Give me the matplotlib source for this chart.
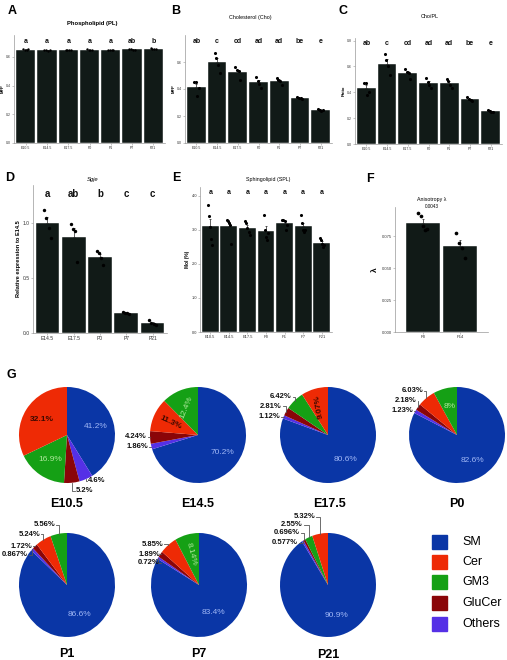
import numpy as np
import matplotlib
matplotlib.use('Agg')
from matplotlib import pyplot as plt
from matplotlib.patches import Rectangle

plt.rcParams['font.family'] = ['Liberation Sans', 'DejaVu Sans']

W, H = 507, 660

# ---------------- bar panel data ----------------
stages7 = ['E10.5', 'E14.5', 'E17.5', 'P0', 'P1', 'P7', 'P21']

pl_dots = [[0.655, 0.650, 0.648, 0.652], [0.648, 0.645, 0.642, 0.645],
           [0.650, 0.648, 0.646, 0.648], [0.652, 0.650, 0.648, 0.650],
           [0.648, 0.646, 0.645, 0.647], [0.655, 0.652, 0.650, 0.651],
           [0.660, 0.657, 0.655, 0.656]]
pl_letters = ['a', 'a', 'a', 'a', 'a', 'ab', 'b']

cho_dots = [[0.45, 0.455, 0.35, 0.405], [0.67, 0.63, 0.58, 0.52],
            [0.56, 0.54, 0.53, 0.47], [0.49, 0.46, 0.44, 0.41],
            [0.48, 0.47, 0.46, 0.43], [0.34, 0.335, 0.33, 0.325],
            [0.25, 0.245, 0.24, 0.245]]
cho_letters = ['ab', 'c', 'cd', 'ad', 'ad', 'be', 'e']

ratio_dots = [[0.47, 0.47, 0.38, 0.40], [0.70, 0.65, 0.60, 0.53],
              [0.58, 0.56, 0.55, 0.50], [0.51, 0.48, 0.46, 0.43],
              [0.50, 0.49, 0.46, 0.43], [0.36, 0.35, 0.34, 0.335],
              [0.26, 0.255, 0.25, 0.25]]
ratio_letters = ['ab', 'c', 'cd', 'ad', 'ad', 'be', 'e']

sgje_stages = ['E14.5', 'E17.5', 'P0', 'P7', 'P21']
sgje_dots = [[1.12, 1.05, 0.96, 0.87], [0.99, 0.95, 0.93, 0.65],
             [0.75, 0.73, 0.68, 0.62], [0.19, 0.18, 0.18, 0.17],
             [0.12, 0.09, 0.08, 0.07]]
sgje_letters = ['a', 'ab', 'b', 'c', 'c']

spl_dots = [[3.74, 3.41, 3.09, 2.74, 2.56], [3.3, 3.25, 3.2, 3.15, 2.6],
            [3.25, 3.2, 3.05, 2.95, 2.85], [3.45, 3.0, 2.8, 2.7, 2.9],
            [3.3, 3.3, 3.25, 3.0, 3.15], [3.45, 3.2, 3.0, 2.95, 3.0],
            [2.75, 2.7, 2.6, 2.5, 2.55]]
spl_letters = ['a'] * 7

aniso_stages = ['P0', 'P14']
aniso_dots = [[0.093, 0.091, 0.083, 0.080, 0.081], [0.078, 0.0695, 0.0656, 0.058]]
aniso_p = '0.0043'

# ---------------- pie data (% of sphingolipids) ----------------
pie_stages = ['E10.5', 'E14.5', 'E17.5', 'P0', 'P1', 'P7', 'P21']
sm_pct = [41.2, 70.2, 80.6, 82.6, 86.6, 83.4, 90.9]
cer_pct = [32.1, 11.3, 9.07, 6.03, 5.24, 5.85, 5.32]
gm3_pct = [16.9, 12.4, 6.42, 8, 5.56, 8.14, 2.55]
glucer_pct = [5.2, 4.24, 2.81, 2.18, 1.72, 1.89, 0.696]
others_pct = [4.6, 1.86, 1.12, 1.23, 0.867, 0.72, 0.577]

cats = ['SM', 'Cer', 'GM3', 'GluCer', 'Others']
cat_colors = {'SM': '#0a36a6', 'Cer': '#ee2a05', 'GM3': '#15a015',
              'GluCer': '#8a0508', 'Others': '#5530e6'}

BAR = '#111a17'

fig = plt.figure(figsize=(W / 100, H / 100), dpi=100)


def px_axes(l, t, r, b):
    return fig.add_axes([l / W, 1 - b / H, (r - l) / W, (b - t) / H])


def bar_panel(ax, labels, dots, letters, ymax, yticks, fmt, ylabel,
              letter_y, tick_fs=2.5, letter_fs=5, dot_s=3):
    x = np.arange(len(labels))
    means = [np.mean(d) for d in dots]
    sems = [np.std(d, ddof=1) / np.sqrt(len(d)) for d in dots]
    ax.bar(x, means, width=0.9, color=BAR, edgecolor='white', linewidth=0.3, zorder=2)
    ax.errorbar(x, means, yerr=[np.zeros(len(x)), sems], fmt='none',
                ecolor='#222', elinewidth=0.5, capsize=1.0, capthick=0.5, zorder=3)
    for i, d in enumerate(dots):
        jit = np.linspace(-0.12, 0.12, len(d))
        ax.scatter(i + jit, d, s=dot_s, color='black', linewidths=0, zorder=4)
    for i, s in enumerate(letters):
        ax.text(i, letter_y, s, ha='center', va='center', fontsize=letter_fs,
                fontweight='bold', color='#111')
    ax.set_xlim(-0.55, len(labels) - 0.45)
    ax.set_ylim(0, ymax)
    ax.set_xticks(x)
    ax.set_xticklabels(labels, fontsize=tick_fs, color='#333')
    ax.set_yticks(yticks)
    ax.set_yticklabels([fmt.format(v) for v in yticks], fontsize=tick_fs, color='#333')
    ax.set_ylabel(ylabel, fontsize=tick_fs + 0.5, fontweight='bold', labelpad=1)
    for s in ['top', 'right']:
        ax.spines[s].set_visible(False)
    for s in ['left', 'bottom']:
        ax.spines[s].set_color('#999')
        ax.spines[s].set_linewidth(0.5)
    ax.tick_params(length=1.2, width=0.4, pad=1, colors='#999', labelcolor='#333')


# A
ax = px_axes(14, 35, 165, 143)
bar_panel(ax, stages7, pl_dots, pl_letters, 0.753, [0, 0.2, 0.4, 0.6], '{:.1f}',
          'MFP', 0.71)
# B
ax = px_axes(185, 35, 332, 143)
bar_panel(ax, stages7, cho_dots, cho_letters, 0.8, [0, 0.2, 0.4, 0.6], '{:.1f}',
          'MFP', 0.755, dot_s=5)
# C
ax = px_axes(355, 38, 502, 144)
bar_panel(ax, stages7, ratio_dots, ratio_letters, 0.82, [0, 0.2, 0.4, 0.6, 0.8], '{:.1f}',
          'Ratio', 0.78, dot_s=5)
# D
ax = px_axes(33, 185, 167, 333)
bar_panel(ax, sgje_stages, sgje_dots, sgje_letters, 1.35, [0, 0.5, 1.0], '{:.1f}',
          'Relative expression to E14.5', 1.27, tick_fs=3.6, letter_fs=7, dot_s=6)
# E
ax = px_axes(200, 187, 332, 332)
bar_panel(ax, stages7, spl_dots, spl_letters, 4.26, [0, 1, 2, 3, 4], '{:.1f}',
          'Mol (%)', 4.1, tick_fs=2.9, letter_fs=5, dot_s=5)
# F
ax = px_axes(395, 207, 488, 332)
bar_panel(ax, aniso_stages, aniso_dots, ['', ''], 0.098, [0, 0.025, 0.05, 0.075],
          '{:.3f}', '', 0.09, tick_fs=3.0, dot_s=7)
ax.set_xlim(-0.75, 1.75)
ax.set_ylabel('λ', fontsize=6, rotation=90, labelpad=2)

# ---------------- pies ----------------
pie_pos = {'E10.5': (67, 435), 'E14.5': (198, 435), 'E17.5': (328, 435),
           'P0': (457, 435), 'P1': (67, 585), 'P7': (199, 585), 'P21': (328, 585)}
RX = 48
RY = {'E10.5': 48, 'E14.5': 48, 'E17.5': 48, 'P0': 48, 'P1': 52, 'P7': 52, 'P21': 52}

inside = {('E10.5', 'SM'): 0, ('E10.5', 'Cer'): 0, ('E10.5', 'GM3'): 0,
          ('E14.5', 'SM'): 0, ('E14.5', 'Cer'): -25, ('E14.5', 'GM3'): 68,
          ('E17.5', 'SM'): 0, ('E17.5', 'Cer'): 100,
          ('P0', 'SM'): 0, ('P0', 'GM3'): 0,
          ('P1', 'SM'): 0,
          ('P7', 'SM'): 0, ('P7', 'GM3'): -75,
          ('P21', 'SM'): 0}
inside_color = {'SM': '#9fb6f5', 'GM3': '#aee89c', 'Cer': '#3a0800'}

outside = {'E10.5': [('Others', 88, 481, 'left'), ('GluCer', 76, 491, 'left')],
           'E14.5': [('GluCer', 147, 437, 'right'), ('Others', 148, 447, 'right')],
           'E17.5': [('GM3', 292, 397, 'right'), ('GluCer', 282, 406, 'right'),
                     ('Others', 280, 417, 'right')],
           'P0': [('Cer', 423, 391, 'right'), ('GluCer', 417, 401, 'right'),
                  ('Others', 413, 411, 'right')],
           'P1': [('GM3', 55, 525, 'right'), ('Cer', 40, 534, 'right'),
                  ('GluCer', 32, 546, 'right'), ('Others', 28, 555, 'right')],
           'P7': [('Cer', 163, 544, 'right'), ('GluCer', 160, 554, 'right'),
                  ('Others', 160, 563, 'right')],
           'P21': [('Cer', 315, 517, 'right'), ('GM3', 303, 525, 'right'),
                   ('GluCer', 300, 533, 'right'), ('Others', 298, 543, 'right')]}

pct_table = {'SM': sm_pct, 'Cer': cer_pct, 'GM3': gm3_pct,
             'GluCer': glucer_pct, 'Others': others_pct}

mid_angles = {}
for k, st in enumerate(pie_stages):
    vals = {c: pct_table[c][k] for c in cats}
    rest = sorted([c for c in cats if c != 'SM'], key=lambda c: vals[c])
    order = ['SM'] + rest
    cx, cy = pie_pos[st]
    s = RX * 1.6
    pax = px_axes(cx - s, cy - s, cx + s, cy + s)
    pax.pie([vals[c] for c in order], colors=[cat_colors[c] for c in order],
            startangle=90, counterclock=False, radius=1,
            wedgeprops=dict(linewidth=0))
    pax.set_aspect('auto')
    yl = 1.6 * RX / RY[st]
    pax.set_xlim(-1.6, 1.6)
    pax.set_ylim(-yl, yl)
    pax.axis('off')
    tot = sum(vals.values())
    start = 0.0
    for c in order:
        span = vals[c] / tot * 360
        mid = start + span / 2  # clockwise from top
        mid_angles[(st, c)] = mid
        start += span
        if (st, c) in inside:
            a = np.deg2rad(90 - mid)
            rr = 0.62
            pax.text(rr * np.cos(a), rr * np.sin(a), f'{vals[c]:.3g}%',
                     ha='center', va='center', fontsize=6,
                     fontweight='bold' if c == 'Cer' else 'normal',
                     rotation=inside[(st, c)], color=inside_color[c])

# ---------------- overlay for text / leaders ----------------
ov = fig.add_axes([0, 0, 1, 1])
ov.set_xlim(0, W)
ov.set_ylim(H, 0)
ov.axis('off')

for k, st in enumerate(pie_stages):
    cx, cy = pie_pos[st]
    for c, tx, ty, ha in outside[st]:
        v = pct_table[c][k]
        ov.text(tx, ty, f'{v:.3g}%', ha=ha, va='center', fontsize=5.5,
                fontweight='bold', color='#111')
        a = np.deg2rad(mid_angles[(st, c)])
        ex, ey = cx + RX * np.sin(a), cy - RY[st] * np.cos(a)
        sx = tx + 1 if ha == 'right' else tx - 1
        ov.plot([sx, ex, ex], [ty, ty, ey], color='#555', lw=0.6)

title_pos = {'E10.5': (67, 504), 'E14.5': (198, 504), 'E17.5': (330, 504),
             'P0': (457, 504), 'P1': (67, 654), 'P7': (199, 654), 'P21': (328, 655)}
for st, (x, y) in title_pos.items():
    ov.text(x, y, st, ha='center', va='center', fontsize=9, fontweight='bold')

# legend
leg_y = [542, 562, 582, 603, 624]
for c, y in zip(cats, leg_y):
    ov.add_patch(Rectangle((432, y - 7), 15, 14, color=cat_colors[c]))
    ov.text(462, y, c, ha='left', va='center', fontsize=9)

# panel letters and titles
for s, x, y in [('A', 12, 11), ('B', 176, 11), ('C', 343, 11), ('D', 10, 178),
                ('E', 176, 178), ('F', 370, 179), ('G', 11, 375)]:
    ov.text(x, y, s, ha='center', va='center', fontsize=9, fontweight='bold')

ov.text(92, 23, 'Phospholipid (PL)', ha='center', va='center', fontsize=4.2, fontweight='bold')
ov.text(250, 18, 'Cholesterol (Cho)', ha='center', va='center', fontsize=3.9)
ov.text(430, 16, 'Cho/PL', ha='center', va='center', fontsize=3.9)
ov.text(93, 180, 'Sgje', ha='center', va='center', fontsize=4.2, style='italic')
ov.text(268, 180, 'Sphingolipid (SPL)', ha='center', va='center', fontsize=3.8)
ov.text(432, 200, 'Anisotropy λ', ha='center', va='center', fontsize=3.8)
ov.text(432, 207, aniso_p, ha='center', va='center', fontsize=3.3)

fig.savefig('out.png', dpi=100)
